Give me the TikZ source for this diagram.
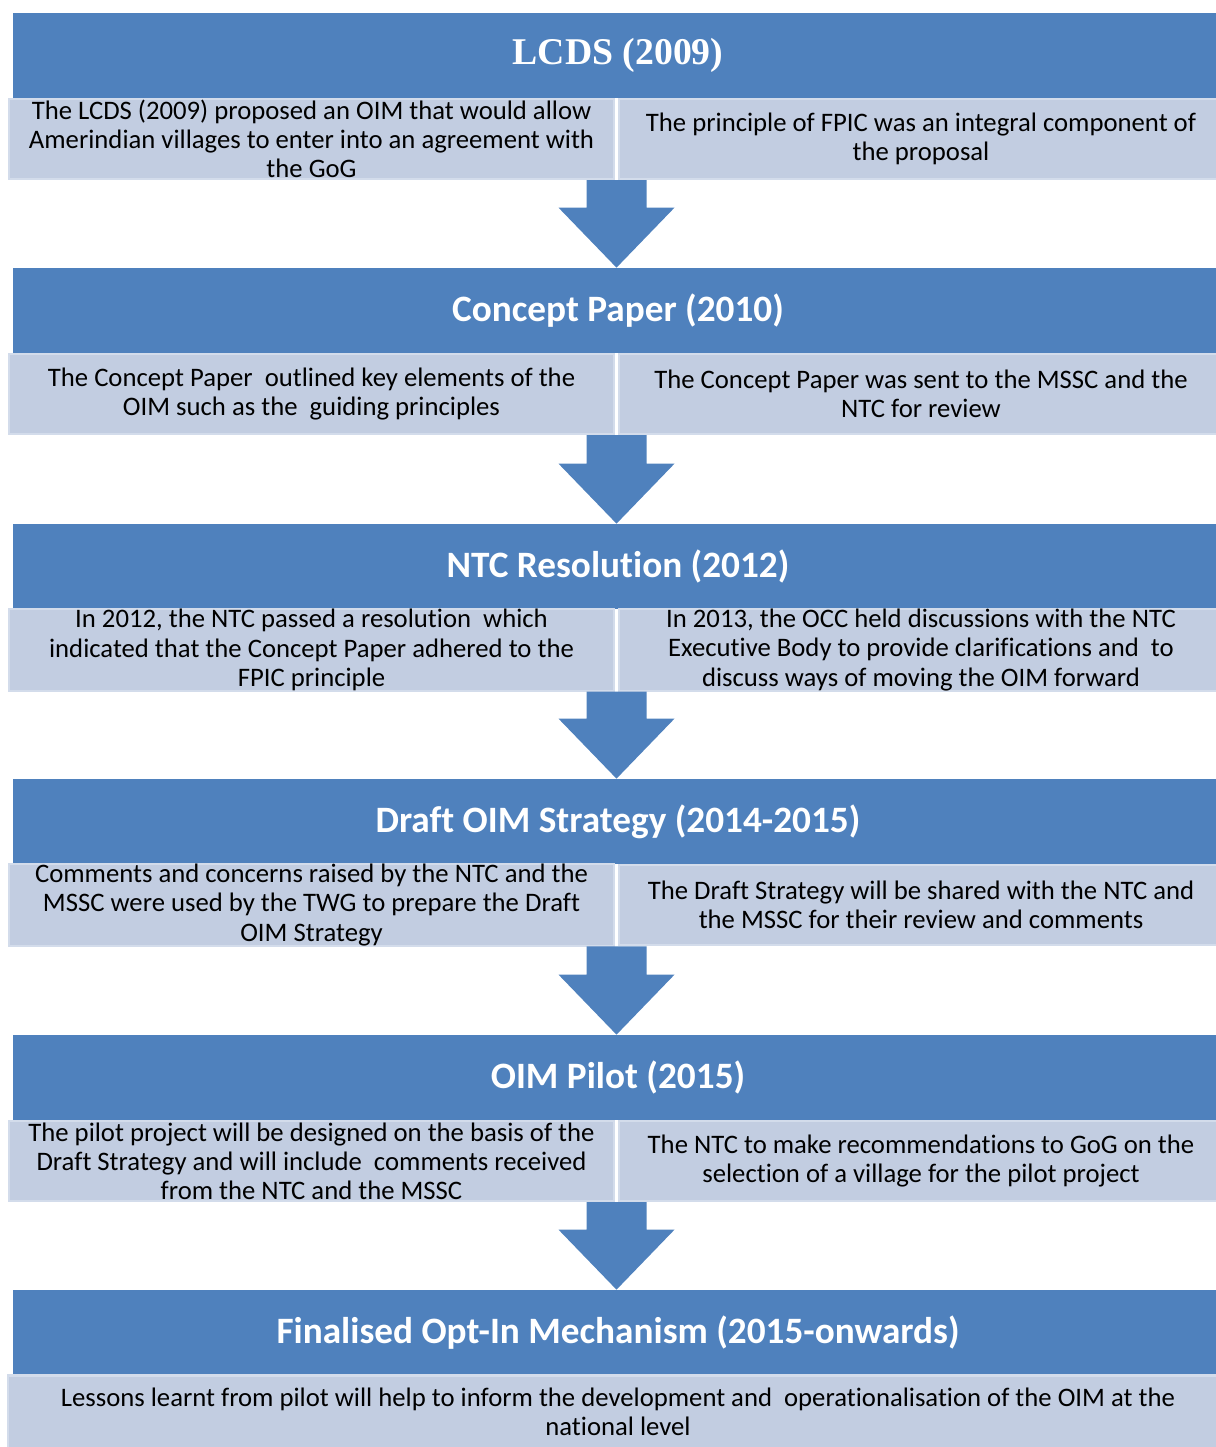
\documentclass[tikz,border=0pt]{standalone}
\usepackage{fontspec}
\setmainfont{Carlito}[Ligatures=NoCommon]
\newfontfamily\capserif{Liberation Serif}
\usepackage{tikz}
\usetikzlibrary{calc}
\definecolor{hdrblue}{HTML}{4F81BD}
\definecolor{subfill}{HTML}{C2CDE1}
\definecolor{subedge}{HTML}{D3DCEB}
\tikzset{
  hdr/.style={fill=hdrblue, text=white, inner sep=0pt, minimum width=24.2cm,
    minimum height=1.7cm, font=\fontsize{21.2}{25}\selectfont\bfseries},
  sub/.style={fill=subfill, draw=subedge, line width=1.2pt, inner sep=0pt,
    minimum height=1.6cm, align=center, font=\fontsize{15.2}{16.6}\selectfont},
  subl/.style={sub, minimum width=12.1cm},
  subr/.style={sub, minimum width=12.08cm},
  blk/.style={fill=hdrblue}
}
% block arrow from the gap under row #1 down to header #2
\newcommand{\stagearrow}[3]{%
  \coordinate (top) at ($(#1.south east)!0.5!(#2.south west)$);
  \coordinate (tip) at (top |- #3.north);
  \fill[blk] ($(top)+(-30,0)$) -- ($(top)+(30,0)$) -- ($(tip)+(30,-60)$)
    -- ($(tip)+(58,-60)$) -- (tip) -- ($(tip)+(-58,-60)$) -- ($(tip)+(-30,-60)$) -- cycle;
}

\begin{document}
\begin{tikzpicture}[x=0.02cm, y=-0.02cm]
\useasboundingbox (0,0) rectangle (1216,1447);

\node[hdr, font=\fontsize{21.5}{25}\selectfont\bfseries\capserif] (h1) at (618,55.5) {LCDS (2009)};
\node[subl] (l1) at (311.5,139) {The LCDS (2009) proposed an OIM that would allow\\Amerindian villages to enter into an agreement with\\the GoG};
\node[subr] (r1) at (921,139) {The principle of FPIC was an integral component of\\the proposal};

\node[hdr] (h2) at (618,310.5) {Concept Paper (2010)};
\node[subl] (l2) at (311.5,394) {The Concept Paper\ \ outlined key elements of the\\OIM such as the\ \ guiding principles};
\node[subr] (r2) at (921,394) {The Concept Paper was sent to the MSSC and the\\NTC for review};

\node[hdr] (h3) at (618,566.5) {NTC Resolution (2012)};
\node[subl] (l3) at (311.5,650) {In 2012, the NTC passed a resolution\ \ which\\indicated that the Concept Paper adhered to the\\FPIC principle};
\node[subr] (r3) at (921,650) {In 2013, the OCC held discussions with the NTC\\Executive Body to provide clarifications and\ \ to\\discuss ways of moving the OIM forward};

\node[hdr] (h4) at (618,821.5) {Draft OIM Strategy (2014-2015)};
\node[subl] (l4) at (311.5,905) {Comments and concerns raised by the NTC and the\\MSSC were used by the TWG to prepare the Draft\\OIM Strategy};
\node[subr] (r4) at (921,905) {The Draft Strategy will be shared with the NTC and\\the MSSC for their review and comments};

\node[hdr] (h5) at (618,1077.5) {OIM Pilot (2015)};
\node[subl] (l5) at (311.5,1161) {The pilot project will be designed on the basis of the\\Draft Strategy and will include\ \ comments received\\from the NTC and the MSSC};
\node[subr] (r5) at (921,1161) {The NTC to make recommendations to GoG on the\\selection of a village for the pilot project};

\node[hdr] (h6) at (618,1332.5) {Finalised Opt-In Mechanism (2015-onwards)};
\node[sub, minimum width=24.4cm, minimum height=1.46cm] (l6) at (618,1412) {Lessons learnt from pilot will help to inform the development and\ \ operationalisation of the OIM at the\\national level};

\stagearrow{l1}{r1}{h2}
\stagearrow{l2}{r2}{h3}
\stagearrow{l3}{r3}{h4}
\stagearrow{l4}{r4}{h5}
\stagearrow{l5}{r5}{h6}
\end{tikzpicture}
\end{document}
